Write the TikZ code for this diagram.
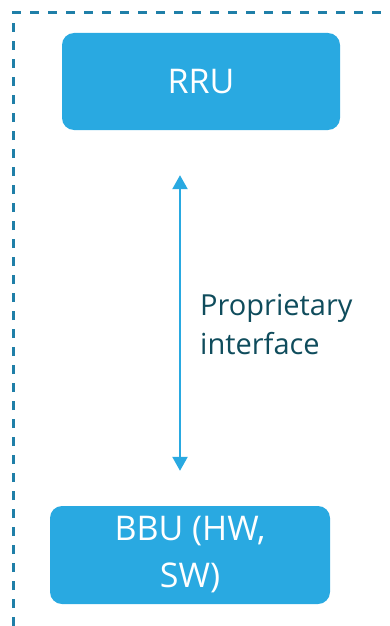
\documentclass[tikz,border=0pt]{standalone}
\usepackage{fontspec}
\setmainfont{Open Sans}
\usepackage{xcolor}
\usetikzlibrary{arrows.meta}
\usetikzlibrary{calc}

\definecolor{unitblue}{HTML}{29A9E1}
\definecolor{frameblue}{HTML}{1F7FA8}
\definecolor{labelteal}{HTML}{0F4C5C}

\tikzset{
  unit/.style={fill=unitblue, rounded corners=12pt, text=white, align=center,
    font=\fontsize{34}{47}\selectfont, inner sep=0pt},
  frame/.style={draw=frameblue, line width=3pt, dash pattern=on 9pt off 9pt},
  link/.style={draw=unitblue, line width=2.4pt, {Triangle[length=14pt,width=15pt]}-{Triangle[length=14pt,width=15pt]}}
}

\begin{document}
\begin{tikzpicture}[x=1pt,y=-1pt]
      \useasboundingbox (0,0) rectangle (390,626);
      \draw[frame] (13,626) -- (13,13) -- (390,13);

      \node[unit, minimum width=278pt, minimum height=97pt] (rru) at (201,81.5) {RRU};
      \node[unit, minimum width=280pt, minimum height=98pt] (bbu) at (190,555) {BBU (HW,\\SW)};

      \coordinate (a1) at ($(rru.south)+(-21,45)$);
      \coordinate (a2) at ($(bbu.north)+(-10,-35)$);
      \path[link] (a1) -- (a2);

      \node[anchor=west, align=left, inner sep=0pt, text=labelteal,
        font=\fontsize{29}{39}\selectfont] (lbl) at (200,324) {Proprietary\\interface};
    \end{tikzpicture}
\end{document}
